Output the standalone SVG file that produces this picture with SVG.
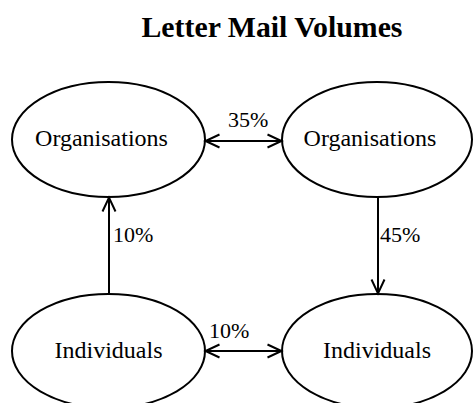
<svg xmlns="http://www.w3.org/2000/svg" width="473" height="403" viewBox="0 0 473 403">
<style>
.node ellipse{fill:#fff;stroke:#000;stroke-width:2}
.node text{font-family:"Liberation Serif","Times New Roman",serif;font-size:24px;fill:#000;text-anchor:middle}
.lbl{font-family:"Liberation Serif","Times New Roman",serif;font-size:22px;fill:#000}
.edge{stroke:#000;stroke-width:2;fill:none}
.title{font-family:"Liberation Serif","Times New Roman",serif;font-size:29.8px;font-weight:bold;fill:#000;text-anchor:middle}
</style>
<defs>
<marker id="arr" markerUnits="userSpaceOnUse" markerWidth="20" markerHeight="20" viewBox="-16 -10 20 20" refX="0" refY="0" orient="auto-start-reverse">
<path d="M-14,-6.5 L0,0 L-14,6.5" fill="none" stroke="#000" stroke-width="2"/>
</marker>
</defs>
<rect width="473" height="403" fill="#fff"/>
<text class="title" x="272" y="37">Letter Mail Volumes</text>
<g id="org1" class="node"><ellipse cx="108.5" cy="139.5" rx="96.5" ry="57.5"/><text x="101.5" y="146">Organisations</text></g>
<g id="org2" class="node"><ellipse cx="377" cy="139.5" rx="95" ry="57.5"/><text x="370" y="146">Organisations</text></g>
<g id="ind1" class="node"><ellipse cx="108.5" cy="351" rx="96.5" ry="57"/><text x="108.5" y="358">Individuals</text></g>
<g id="ind2" class="node"><ellipse cx="377" cy="351" rx="95" ry="57"/><text x="377" y="358">Individuals</text></g>
<g id="connectors">
<line class="edge" x1="205.5" y1="141" x2="281.5" y2="141" marker-start="url(#arr)" marker-end="url(#arr)"/>
<text class="lbl" x="228" y="127">35%</text>
<line class="edge" x1="109" y1="294" x2="109" y2="197.5" marker-end="url(#arr)"/>
<text class="lbl" x="113" y="242">10%</text>
<line class="edge" x1="378" y1="197" x2="378" y2="293.5" marker-end="url(#arr)"/>
<text class="lbl" x="380" y="242">45%</text>
<line class="edge" x1="205.5" y1="351" x2="281.5" y2="351" marker-start="url(#arr)" marker-end="url(#arr)"/>
<text class="lbl" x="209" y="338">10%</text>
</g>
</svg>
